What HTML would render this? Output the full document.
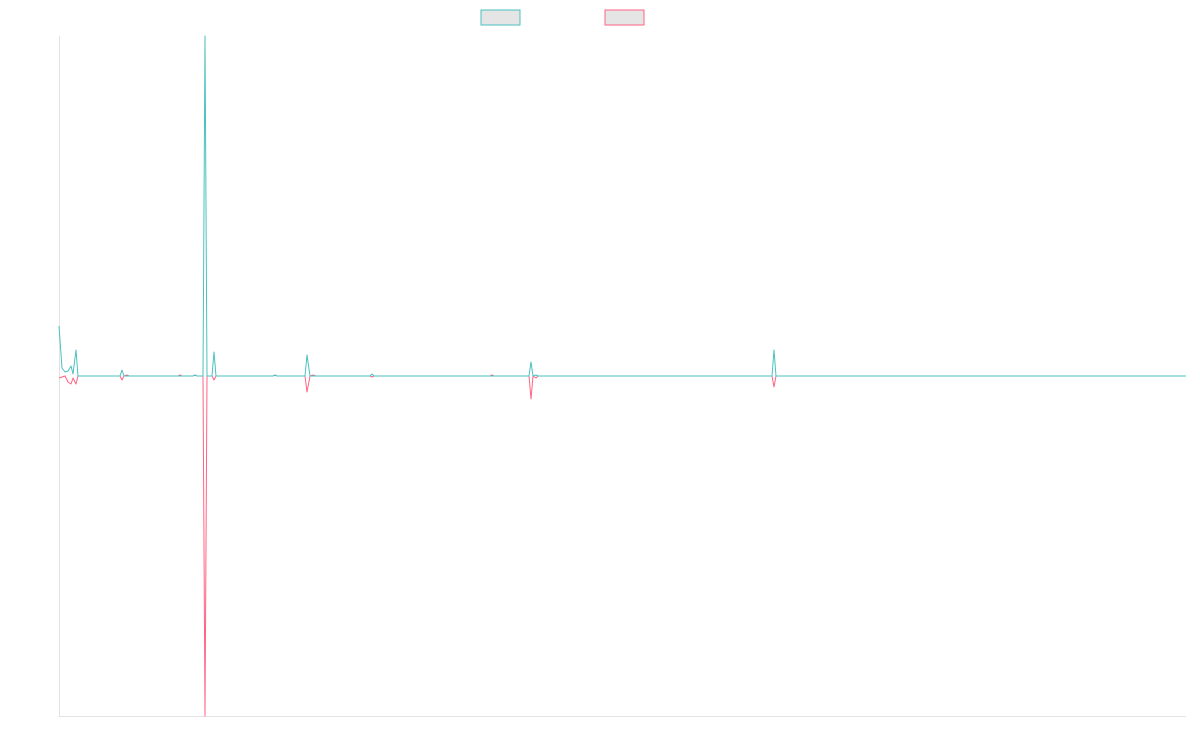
<!DOCTYPE html>
<html><head><meta charset="utf-8"><style>
html,body{margin:0;padding:0;background:#fff;}
svg{display:block;}
</style></head><body>
<svg width="1200" height="750" viewBox="0 0 1200 750" xmlns="http://www.w3.org/2000/svg">
<rect x="481" y="10" width="39" height="15" fill="#e5e5e5" stroke="#4bc0c0" stroke-width="1"/>
<rect x="605" y="10" width="39" height="15" fill="#e5e5e5" stroke="#ff6384" stroke-width="1"/>
<line x1="59.5" y1="36" x2="59.5" y2="716" stroke="#e3e3e3" stroke-width="1"/>
<line x1="59" y1="716.5" x2="1186" y2="716.5" stroke="#e3e3e3" stroke-width="1"/>
<polyline fill="none" stroke="#ff6384" stroke-width="1" stroke-linejoin="round" points="59,378 62,377 65,376 68,382 71,384 73,378 76,384 78,376 120,376 122,380 124,376 127,375 129,376 178,376 180,375 182,376 193,376 195,375 197,376 203,376 205,716 207,376 212,376 214,380 216,376 273,376 275,375 277,376 305,376 307,392 310,376 313,375 316,376 370,376 372,377 374,376 490,376 492,375 494,376 529,376 531,399 533,376 536,378 538,376 772,376 774,387 776,376 1186,376"/>
<polyline fill="none" stroke="#4bc0c0" stroke-width="1" stroke-linejoin="round" points="59,326 62,368 65,372 68,371 71,366 73,374 76,350 78,376 120,376 122,370 124,376 193,376 195,375 197,376 203,376 205,36 207,376 212,376 214,352 216,376 273,376 275,375 277,376 305,376 307,355 310,376 370,376 372,374 374,376 529,376 531,362 533,376 536,375 538,376 772,376 774,350 776,376 1186,376"/>
</svg>
</body></html>
